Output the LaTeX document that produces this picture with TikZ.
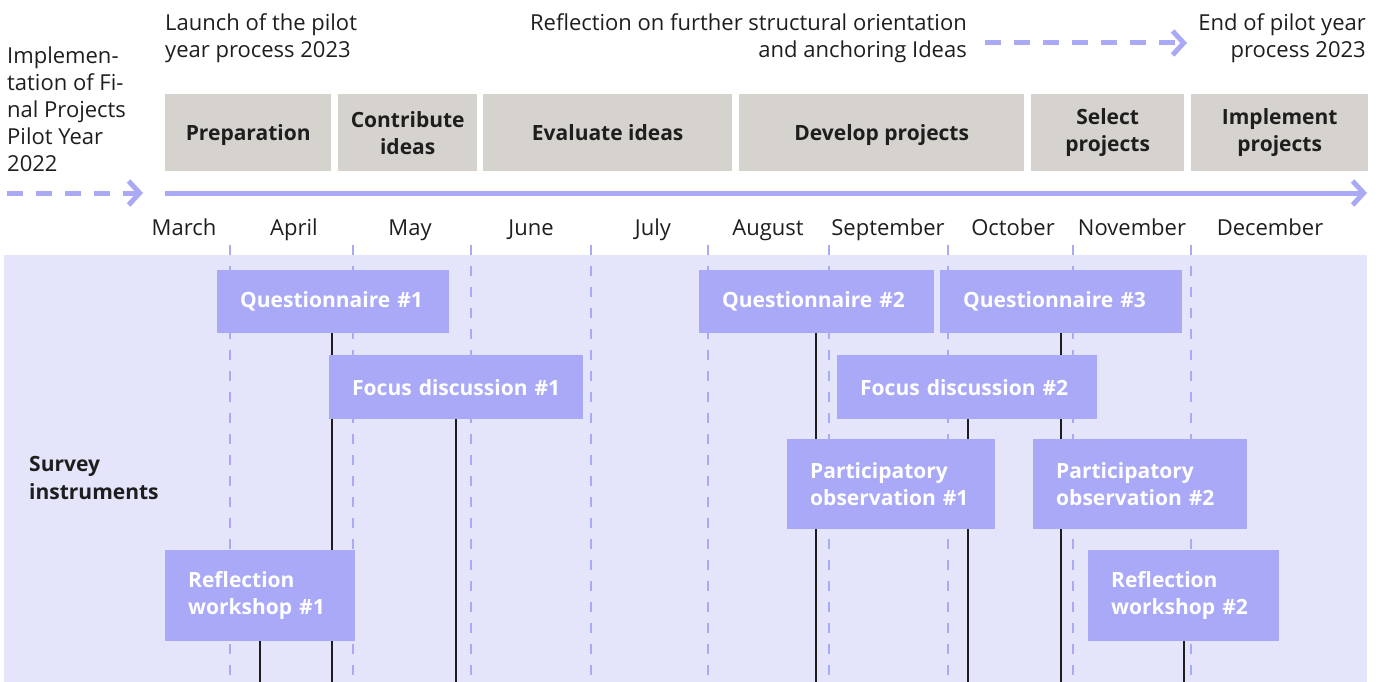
\documentclass[tikz,border=0pt]{standalone}
\usepackage{fontspec}
\setmainfont{Open Sans}
\usetikzlibrary{arrows.meta}
\pgfdeclarelayer{bglayer}
\pgfdeclarelayer{linelayer}
\pgfsetlayers{bglayer,linelayer,main}
\definecolor{bgc}{HTML}{E4E4FB}
\definecolor{boxc}{HTML}{A9A9F8}
\definecolor{phasec}{HTML}{D6D2CD}
\definecolor{linec}{HTML}{A9A9F5}
\definecolor{txt}{HTML}{1E1E1E}
\tikzset{
  lbl/.style={inner sep=0pt, text=txt, font=\fontsize{22}{27}\selectfont},
  phase/.style={fill=phasec, anchor=north west, inner sep=0pt, text=txt,
    font=\bfseries\fontsize{21}{27}\selectfont, align=center},
  phaseone/.style={phase, text depth=0pt},
  inst/.style={fill=boxc, anchor=north west, inner xsep=23pt, inner ysep=0pt,
    text=white, font=\bfseries\fontsize{21}{27}\selectfont, align=left},
  month/.style={lbl, anchor=base},
  gridline/.style={draw=linec, line width=1.5pt, dash pattern=on 10pt off 11pt},
  conn/.style={draw=txt, line width=1.3pt},
  bigarrow/.style={draw=linec, line width=5pt, -{Straight Barb[length=11pt,width=24pt]}},
  dasharrow/.style={bigarrow, dash pattern=on 16pt off 13pt},
}
\begin{document}
\begin{tikzpicture}[x=1pt,y=-1pt]
\useasboundingbox (0,0) rectangle (1384,682);

% top texts
\node[lbl, anchor=north west, align=left] (impl) at (7,46.5)
  {Implemen-\\tation of Fi-\\nal Projects\\Pilot Year\\2022};
\node[lbl, anchor=north west, align=left] (launch) at (165,13.5)
  {Launch of the pilot\\year process 2023};
\node[lbl, anchor=north east, align=right] (refl) at (967,13.5)
  {Reflection on further structural orientation\\and anchoring Ideas};
\node[lbl, anchor=north east, align=right] (endp) at (1366,13.5)
  {End of pilot year\\process 2023};

% arrows
\coordinate (da1s) at (7,193);
\coordinate (da1e) at (143,193);
\draw[dasharrow] (da1s) -- (da1e);
\coordinate (da2s) at (985,43);
\coordinate (da2e) at (1187,43);
\draw[dasharrow] (da2s) -- (da2e);
\coordinate (tls) at (165,193);
\coordinate (tle) at (1367,193);
\draw[bigarrow] (tls) -- (tle);

% phases
\node[phaseone, minimum width=166pt, minimum height=77pt] (p1) at (165,94) {Preparation};
\node[phase, minimum width=139pt, minimum height=77pt] (p2) at (338,94) {Contribute\\ideas};
\node[phaseone, minimum width=249pt, minimum height=77pt] (p3) at (483,94) {Evaluate ideas};
\node[phaseone, minimum width=285pt, minimum height=77pt] (p4) at (739,94) {Develop projects};
\node[phase, minimum width=153pt, minimum height=77pt] (p5) at (1031,94) {Select\\projects};
\node[phase, minimum width=177pt, minimum height=77pt] (p6) at (1191,94) {Implement\\projects};

% months
\node[month] (m3) at (184,235.5) {March};
\node[month] (m4) at (294,235.5) {April};
\node[month] (m5) at (410,235.5) {May};
\node[month] (m6) at (531,235.5) {June};
\node[month] (m7) at (653,235.5) {July};
\node[month] (m8) at (768,235.5) {August};
\node[month] (m9) at (888,235.5) {September};
\node[month] (m10) at (1013,235.5) {October};
\node[month] (m11) at (1132,235.5) {November};
\node[month] (m12) at (1270,235.5) {December};

% background and grid
\begin{pgfonlayer}{bglayer}
  \fill[bgc] (4,255) rectangle (1367,682);
  \foreach \gx in {230,353,471,591,708,829,948,1073,1191}
    \draw[gridline] (\gx,245) -- (\gx,682);
\end{pgfonlayer}

\node[lbl, anchor=north west, align=left, font=\bfseries\fontsize{21}{28}\selectfont] (survey) at (29,456.5)
  {Survey\\instruments};

% instruments
\node[inst, minimum width=232pt, minimum height=63pt, text width=186pt] (q1) at (217,270) {Questionnaire \#1};
\node[inst, minimum width=254pt, minimum height=64pt, text width=208pt] (f1) at (329,355) {Focus discussion \#1};
\node[inst, minimum width=190pt, minimum height=91pt, text width=144pt] (r1) at (165,550) {Reflection\\workshop \#1};
\node[inst, minimum width=235pt, minimum height=63pt, text width=189pt] (q2) at (699,270) {Questionnaire \#2};
\node[inst, minimum width=242pt, minimum height=63pt, text width=196pt] (q3) at (940,270) {Questionnaire \#3};
\node[inst, minimum width=260pt, minimum height=64pt, text width=214pt] (f2) at (837,355) {Focus discussion \#2};
\node[inst, minimum width=208pt, minimum height=90pt, text width=162pt] (po1) at (787,439) {Participatory\\observation \#1};
\node[inst, minimum width=214pt, minimum height=90pt, text width=168pt] (po2) at (1033,439) {Participatory\\observation \#2};
\node[inst, minimum width=191pt, minimum height=91pt, text width=145pt] (r2) at (1088,550) {Reflection\\workshop \#2};

% connectors to bottom
\coordinate (bq1) at (332,682);
\coordinate (bf1) at (456,682);
\coordinate (br1) at (260,682);
\coordinate (bq2) at (816,682);
\coordinate (bf2) at (968,682);
\coordinate (bq3) at (1061,682);
\coordinate (br2) at (1184,682);
\begin{pgfonlayer}{linelayer}
  \draw[conn] (q1.south -| bq1) -- (bq1);
  \draw[conn] (f1.south -| bf1) -- (bf1);
  \draw[conn] (r1.south -| br1) -- (br1);
  \draw[conn] (q2.south -| bq2) -- (bq2);
  \draw[conn] (f2.south -| bf2) -- (bf2);
  \draw[conn] (q3.south -| bq3) -- (bq3);
  \draw[conn] (r2.south -| br2) -- (br2);
\end{pgfonlayer}
\end{tikzpicture}
\end{document}
